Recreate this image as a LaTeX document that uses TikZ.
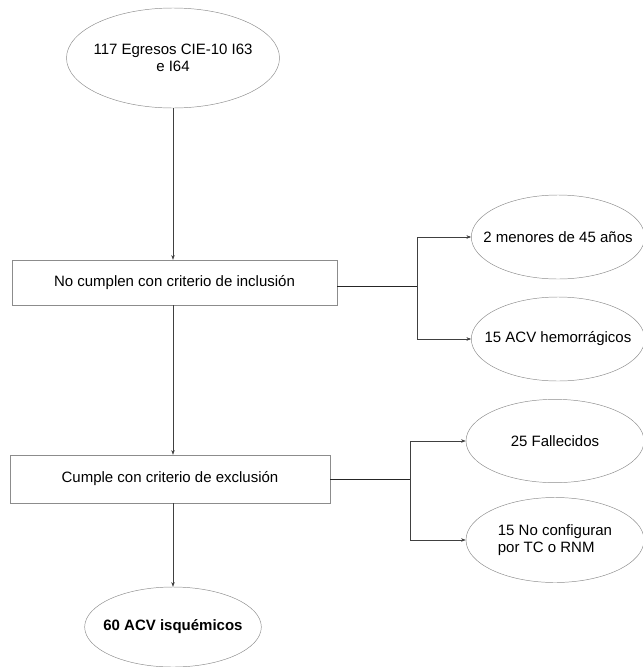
\documentclass[tikz,border=0pt]{standalone}
\usepackage{fontspec}
\setmainfont{Liberation Sans}
\usetikzlibrary{shapes.geometric,arrows.meta}

\begin{document}
\begin{tikzpicture}[x=0.03cm,y=-0.03cm,
  every node/.style={font=\fontsize{12.8}{14.5}\selectfont},
  elip/.style={draw=black!45,ellipse,inner xsep=-20pt,inner ysep=0pt,align=center},
  caja/.style={draw=black!45,rectangle,inner sep=0pt},
  flecha/.style={-{Stealth[length=4pt,width=3pt]},draw=black!75,line width=0.4pt},
  linea/.style={draw=black!85,line width=0.6pt}]
\useasboundingbox (0,0) rectangle (643,667);

% main column
\node[elip,minimum width=6.39cm,minimum height=3cm] (egr) at (173,58) {117 Egresos CIE-10 I63\\e I64};
\node[caja,minimum width=9.75cm,minimum height=1.35cm] (inc) at (174.5,282.5) {No cumplen con criterio de inclusión};
\node[caja,minimum width=9.6cm,minimum height=1.44cm] (exc) at (170,479) {Cumple con criterio de exclusión};
\node[elip,minimum width=5.3cm,minimum height=2.4cm,font=\fontsize{12.8}{14.5}\selectfont\bfseries] (isq) at (173,627) {60 ACV isquémicos};

\draw[flecha] (egr.south) -- (egr.south |- inc.north);
\draw[flecha] (egr.south |- inc.south) -- (egr.south |- exc.north);
\draw[flecha] (egr.south |- exc.south) -- (isq.north);

% inclusion branch
\node[elip,minimum width=5.2cm,minimum height=2.52cm] (men) at (558,237) {2 menores de 45 años};
\node[elip,minimum width=5.2cm,minimum height=2.52cm] (hem) at (558,339) {15 ACV hemorrágicos};
\coordinate (ib) at (417,286);
\draw[linea] (inc.east |- ib) -- (ib);
\draw[flecha] (ib) |- (men.west);
\draw[flecha] (ib) |- (hem.west);

% exclusion branch
\node[elip,minimum width=5.34cm,minimum height=2.5cm] (fal) at (555,441) {25 Fallecidos};
\node[elip,minimum width=5.34cm,minimum height=2.55cm,align=left] (noc) at (555,540) {15 No configuran\\por TC o RNM};
\coordinate (eb) at (410,479);
\draw[linea] (exc.east |- eb) -- (eb);
\draw[flecha] (eb) |- (fal.west);
\draw[flecha] (eb) |- (noc.west);

\end{tikzpicture}
\end{document}
